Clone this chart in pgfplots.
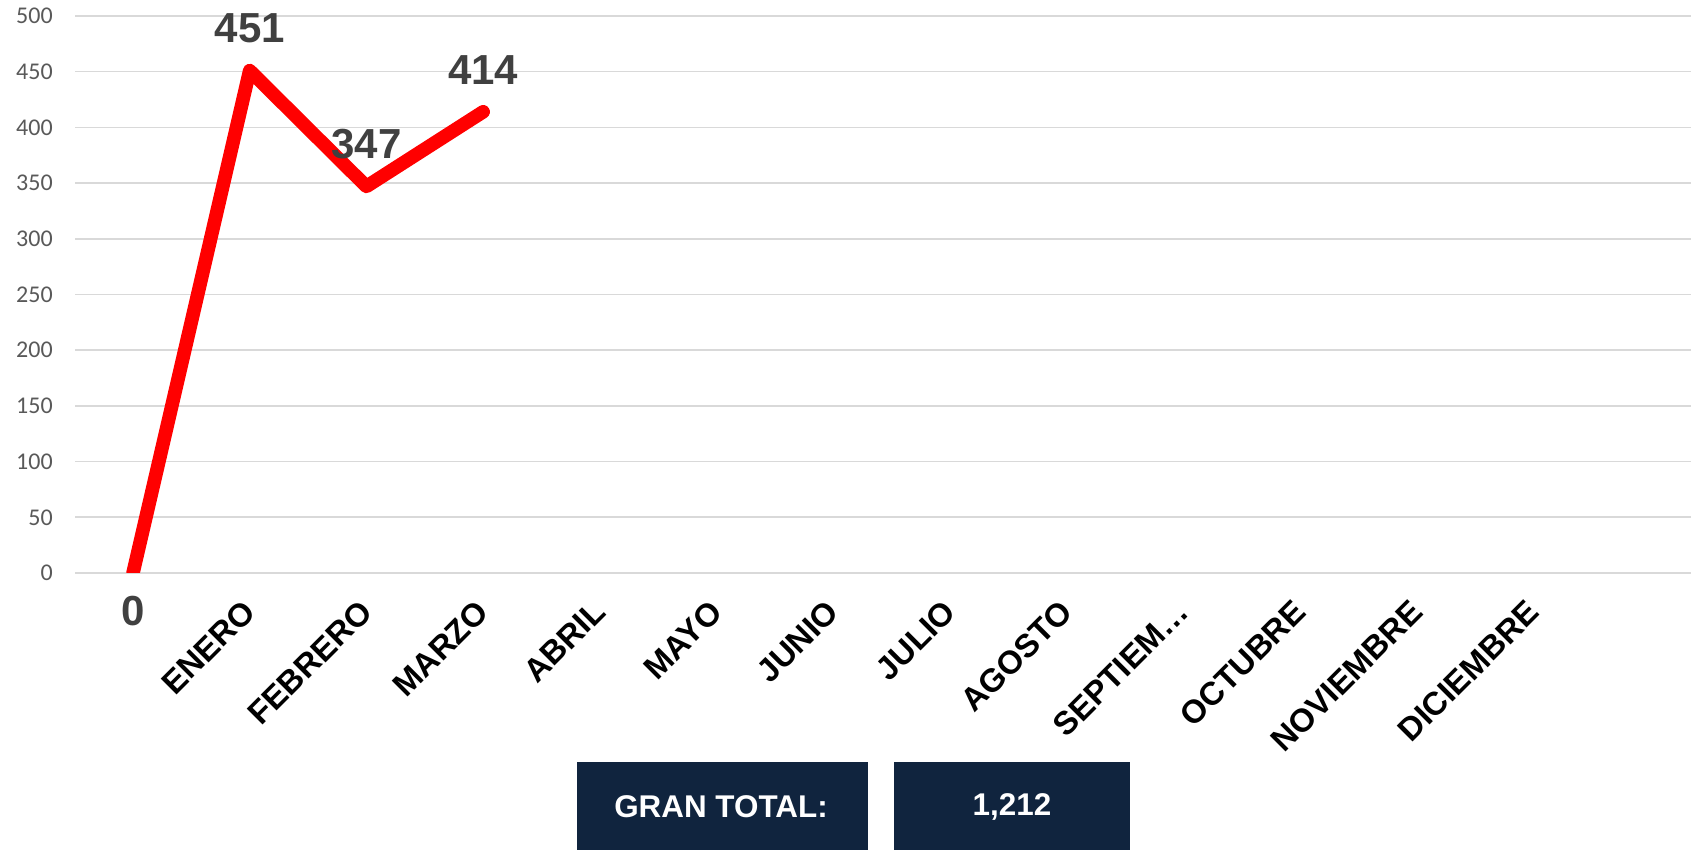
\documentclass[border=0pt]{standalone}
\usepackage{pgfplots}
\pgfplotsset{compat=1.18}
\usepackage{fontspec}
\setmainfont{Liberation Sans}
\newfontfamily\calibri{Carlito}
\definecolor{lblgray}{HTML}{404040}
\definecolor{tickgray}{HTML}{595959}
\definecolor{gridgray}{HTML}{D9D9D9}
\definecolor{navy}{HTML}{10243E}
\begin{document}
\begin{tikzpicture}
% fixed page: 1px = 0.5pt
\useasboundingbox (-37.5pt,-138.5pt) rectangle (808pt,286.5pt);
\begin{axis}[
    scale only axis,
    width=808pt,
    height=278.5pt,
    xmin=-0.497, xmax=13.35,
    ymin=0, ymax=500,
    ytick={0,50,...,500},
    xtick={1,...,12},
    xticklabels={ENERO,FEBRERO,MARZO,ABRIL,MAYO,JUNIO,JULIO,AGOSTO,SEPTIEM…,OCTUBRE,NOVIEMBRE,DICIEMBRE},
    axis line style={draw=none},
    major tick length=0pt,
    ymajorgrids,
    grid style={gridgray, line width=0.8pt},
    /pgf/number format/assume math mode=true,
    yticklabel style={font=\calibri\fontsize{12}{14}\selectfont, text=tickgray, xshift=-7.6pt},
    xticklabel style={font=\bfseries\fontsize{16.3}{19}\selectfont, inner sep=0pt, yshift=-16.5pt, rotate=45, anchor=east},
]

% monthly values
\addplot[red, line width=6.8pt, line join=round, line cap=round]
    coordinates {(0,0) (1,451) (2,347) (3,414)};

% data labels above
\addplot[draw=none, nodes near coords,
    every node near coord/.append style={anchor=center, yshift=21pt, text=lblgray, font=\bfseries\fontsize{21}{25}\selectfont}]
    coordinates {(1,451) (2,347) (3,414)};

% data label below for the first point
\addplot[draw=none, nodes near coords,
    every node near coord/.append style={anchor=center, yshift=-19pt, text=lblgray, font=\bfseries\fontsize{21}{25}\selectfont}]
    coordinates {(0,0)};
\end{axis}

% total boxes
\fill[navy] (251pt,-138.5pt) rectangle (396.5pt,-94.5pt);
\fill[navy] (409.5pt,-138.5pt) rectangle (527.5pt,-94.5pt);
\node[text=white, font=\bfseries\fontsize{15.7}{18}\selectfont] at (323pt,-117pt) {GRAN TOTAL:};
\node[text=white, font=\bfseries\fontsize{15.7}{18}\selectfont] at (468.5pt,-117pt) {1,212};
\end{tikzpicture}
\end{document}
